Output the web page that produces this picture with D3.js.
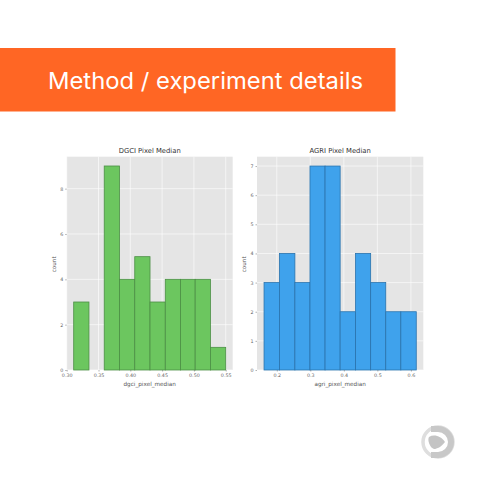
<!DOCTYPE html>
<html>
<head>
<meta charset="utf-8">
<script src="https://cdn.jsdelivr.net/npm/d3@7"></script>
<style>
  html, body { margin: 0; padding: 0; background: #fff; }
  svg { display: block; }
  text { font-family: "DejaVu Sans", sans-serif; }
</style>
</head>
<body>
<svg id="chart" width="480" height="480"></svg>
<script>
// DGCI histogram
const dgciEdges = [0.311, 0.335, 0.359, 0.383, 0.407, 0.431, 0.455, 0.479, 0.502, 0.526, 0.55];
const dgciCounts = [3, 0, 9, 4, 5, 3, 4, 4, 4, 1];
const dgciTicks = [0.30, 0.35, 0.40, 0.45, 0.50, 0.55];
const dgciCountTicks = [0, 2, 4, 6, 8];

// AGRI histogram
const agriEdges = [0.162, 0.208, 0.254, 0.299, 0.344, 0.389, 0.435, 0.48, 0.525, 0.57, 0.616];
const agriCounts = [3, 4, 3, 7, 7, 2, 4, 3, 2, 2];
const agriTicks = [0.2, 0.3, 0.4, 0.5, 0.6];
const agriCountTicks = [0, 1, 2, 3, 4, 5, 6, 7];

const svg = d3.select("#chart");

// Banner
svg.append("rect")
  .attr("x", 0).attr("y", 48)
  .attr("width", 395.5).attr("height", 63.5)
  .attr("fill", "#ff6624");

svg.append("text")
  .attr("x", 48).attr("y", 88.5)
  .attr("textLength", 315)
  .attr("lengthAdjust", "spacingAndGlyphs")
  .style("font-family", "Inter, sans-serif")
  .style("font-size", "22.5px")
  .attr("fill", "#fff")
  .text("Method / experiment details");

function drawHist(opts) {
  const left = opts.left, right = opts.right, top = 156.7, bottom = 370;

  const x = d3.scaleLinear().domain(opts.xDomain).range([left, right]);
  const y = d3.scaleLinear().domain([0, opts.yMax]).range([bottom, top]);

  const g = svg.append("g");

  g.append("rect")
    .attr("x", left).attr("y", top)
    .attr("width", right - left).attr("height", bottom - top)
    .attr("fill", "#e5e5e5");

  // grid
  g.selectAll(".gx").data(opts.xTicks).enter().append("line")
    .attr("class", "gx")
    .attr("x1", d => x(d)).attr("x2", d => x(d))
    .attr("y1", top).attr("y2", bottom)
    .attr("stroke", "#fff").attr("stroke-width", 0.6);
  g.selectAll(".gy").data(opts.yTicks).enter().append("line")
    .attr("class", "gy")
    .attr("x1", left).attr("x2", right)
    .attr("y1", d => y(d)).attr("y2", d => y(d))
    .attr("stroke", "#fff").attr("stroke-width", 0.6);

  // bars, empty bins are skipped
  const bins = opts.counts
    .map((c, i) => ({ count: c, x0: opts.edges[i], x1: opts.edges[i + 1] }))
    .filter(d => d.count > 0);

  g.selectAll(".bar").data(bins).enter().append("rect")
    .attr("class", "bar")
    .attr("x", d => x(d.x0))
    .attr("y", d => y(d.count))
    .attr("width", d => x(d.x1) - x(d.x0))
    .attr("height", d => bottom - y(d.count))
    .attr("fill", opts.fill)
    .attr("stroke", opts.stroke)
    .attr("stroke-width", 0.8);

  const xAxis = d3.axisBottom(x).tickValues(opts.xTicks).tickFormat(d3.format(opts.xFormat)).tickSize(1.5).tickPadding(2.2);
  const yAxis = d3.axisLeft(y).tickValues(opts.yTicks).tickFormat(d3.format("d")).tickSize(1.5).tickPadding(2);

  const ax = g.append("g").attr("transform", "translate(0," + bottom + ")").call(xAxis);
  const ay = g.append("g").attr("transform", "translate(" + left + ",0)").call(yAxis);
  [ax, ay].forEach(a => {
    a.select(".domain").remove();
    a.selectAll("line").attr("stroke", "#666").attr("stroke-width", 0.5);
    a.selectAll("text").attr("fill", "#666").style("font-size", "4.8px");
  });

  g.append("text")
    .attr("x", (left + right) / 2).attr("y", 153)
    .attr("text-anchor", "middle")
    .attr("fill", "#333")
    .style("font-size", "6.8px")
    .text(opts.title);

  g.append("text")
    .attr("x", (left + right) / 2).attr("y", 385.5)
    .attr("text-anchor", "middle")
    .attr("fill", "#555")
    .style("font-size", "5.7px")
    .text(opts.xLabel);

  g.append("text")
    .attr("transform", "translate(" + (left - 11) + "," + ((top + bottom) / 2 + 1) + ") rotate(-90)")
    .attr("text-anchor", "middle")
    .attr("fill", "#555")
    .style("font-size", "5.7px")
    .text("count");
}

drawHist({
  left: 66.7, right: 232.7,
  xDomain: [0.30, 0.561], yMax: 9.41,
  edges: dgciEdges, counts: dgciCounts,
  xTicks: dgciTicks, yTicks: dgciCountTicks, xFormat: ".2f",
  fill: "#6cc65f", stroke: "#4c8f45",
  title: "DGCI Pixel Median", xLabel: "dgci_pixel_median"
});

drawHist({
  left: 257, right: 423.3,
  xDomain: [0.141, 0.637], yMax: 7.32,
  edges: agriEdges, counts: agriCounts,
  xTicks: agriTicks, yTicks: agriCountTicks, xFormat: ".1f",
  fill: "#3fa2ec", stroke: "#2a73ad",
  title: "AGRI Pixel Median", xLabel: "agri_pixel_median"
});

// Logo, bottom right
const logo = svg.append("g").attr("transform", "translate(438,442)");
logo.append("circle").attr("r", 15).attr("fill", "#fff").attr("stroke", "#dedede").attr("stroke-width", 3.5);
logo.append("path")
  .attr("d", "M-7,-16 H0 A16,16 0 0 1 0,16 H-7 V10 H0 A10,10 0 0 0 0,-10 H-7 Z")
  .attr("fill", "#c8c8c8");
logo.append("path")
  .attr("d", "M-9,-5 C-4,-8 3,-6 7,0 C3,5 -1,7 -4,7 C-8,6 -11,-2 -9,-5 Z")
  .attr("fill", "#c4c4c4");
</script>
</body>
</html>
